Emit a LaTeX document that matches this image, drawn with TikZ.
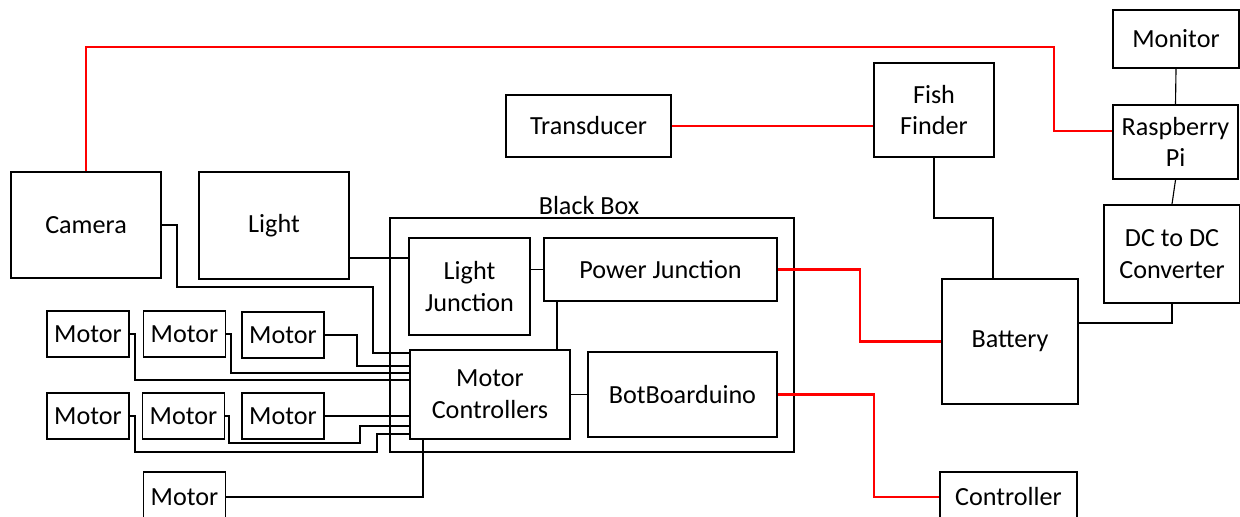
\documentclass[tikz,border=0pt]{standalone}
\usepackage{fontspec}
\setmainfont{Carlito}
\usepackage{tikz}
\usetikzlibrary{calc}
\tikzset{
  box/.style={draw, line width=1.3pt, align=center, inner sep=2pt},
  motor/.style={box, minimum width=2.05cm, minimum height=1.15cm},
  wire/.style={line width=0.8pt},
  sig/.style={line width=1.6pt, red},
}

\begin{document}
\begin{tikzpicture}[x=0.025cm, y=-0.025cm, font=\fontsize{18.6}{22.5}\selectfont]
  \useasboundingbox (0,0) rectangle (1240,517);
  \clip (0,0) rectangle (1240,517);
  \node[box, minimum width=10.1cm, minimum height=5.85cm] (bbx) at (592,335) {};
  \node (bbl) at (589,206) {Black Box};
  \node[box, minimum width=3.75cm, minimum height=2.65cm] (cam) at (86,225) {Camera};
  \node[box, minimum width=3.75cm, minimum height=2.675cm] (lgt) at (274,225.5) {Light};
  \node[box, minimum width=4.125cm, minimum height=1.55cm] (trd) at (588.5,126) {Transducer};
  \node[box, minimum width=3cm, minimum height=2.35cm] (ffd) at (934,110) {Fish\\Finder};
  \node[box, minimum width=3.15cm, minimum height=1.45cm] (mon) at (1176,39) {Monitor};
  \node[box, minimum width=3.125cm, minimum height=1.85cm] (rpi) at (1175.5,142) {Raspberry\\Pi};
  \node[box, minimum width=3.4cm, minimum height=2.45cm] (dcdc) at (1172,254) {DC to DC\\Converter};
  \node[box, minimum width=3.4cm, minimum height=3.125cm] (bat) at (1010,341.5) {Battery};
  \node[box, minimum width=3.425cm, minimum height=1.25cm] (ctr) at (1008.5,497) {Controller};
  \node[box, minimum width=3.025cm, minimum height=2.425cm] (lj) at (469.5,286.5) {Light\\Junction};
  \node[box, minimum width=5.825cm, minimum height=1.575cm] (pj) at (660.5,269.5) {Power Junction};
  \node[box, minimum width=4cm, minimum height=2.225cm] (mc) at (490,394.5) {Motor\\Controllers};
  \node[box, minimum width=4.725cm, minimum height=2.125cm] (bbd) at (682.5,394.5) {BotBoarduino};
  \node[motor] (m1) at (88,334) {Motor};
  \node[motor] (m2) at (184.5,334) {Motor};
  \node[motor] (m3) at (283,335) {Motor};
  \node[motor] (m4) at (88,416) {Motor};
  \node[motor] (m5) at (183.5,416) {Motor};
  \node[motor] (m6) at (283,416) {Motor};
  \node[motor, minimum height=1.25cm] (m7) at (184.5,497) {Motor};
  \draw[sig] (cam.north) |- (1054,47) |- (rpi.west |- 0,131);
  \draw[sig] (trd.east) -- (ffd.west |- trd.east);
  \draw[sig] (pj.east) -| (860,341.5) -- (bat.west);
  \draw[sig] (bbd.east) -| (874,497) -- (ctr.west);
  \draw[wire] (mon.south) -- (rpi.north);
  \draw[wire] (rpi.south) -- (dcdc.north);
  \draw[wire] (ffd.south) |- (993,218) -- (bat.north -| 993,0);
  \draw[wire] (bat.east |- 0,323) -| (dcdc.south);
  \draw[wire] (lgt.east |- 0,258) -- (lj.west |- 0,258);
  \draw[wire] (lj.east |- pj.west) -- (pj.west);
  \draw[wire] (pj.south -| 557,0) -- (mc.north -| 557,0);
  \draw[wire] (mc.east) -- (bbd.west);
  \draw[wire] (cam.east) -| (177,287) -| (373,353) -- (mc.west |- 0,353);
  \draw[wire] (m3.east) -| (357,366) -- (mc.west |- 0,366);
  \draw[wire] (m2.east) -| (231,373) -- (mc.west |- 0,373);
  \draw[wire] (m1.east) -| (135,380) -- (mc.west |- 0,380);
  \draw[wire] (m6.east) -- (mc.west |- m6.east);
  \draw[wire] (m5.east) -| (229,443) -| (360,426) -- (mc.west |- 0,426);
  \draw[wire] (m4.east) -| (135,452) -| (377,434) -- (mc.west |- 0,434);
  \draw[wire] (m7.east) -| (mc.south -| 423,0);
\end{tikzpicture}
\end{document}
